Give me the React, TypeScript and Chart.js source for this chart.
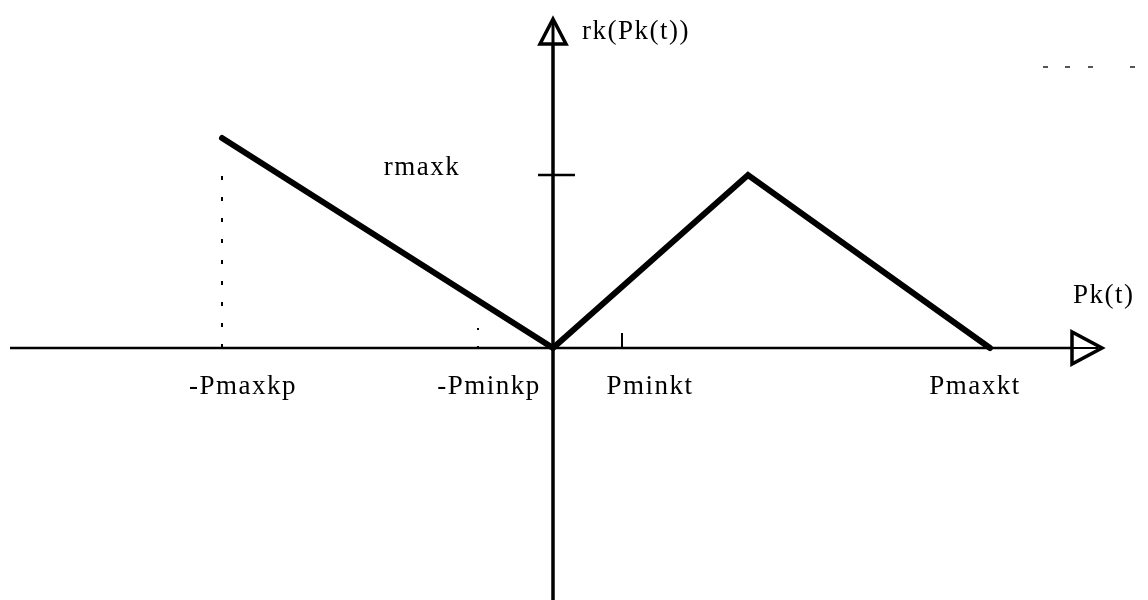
import React, { useEffect, useRef } from "react";
import { Chart, registerables } from "chart.js";

Chart.register(...registerables);

// Piecewise-linear reward curve rk(Pk(t)) in abstract units (origin at 0,0)
const curveX = [-6.62, 0, 3.9, 8.74];
const curveY = [4.2, 0, 3.46, 0];

// Characteristic points on the Pk(t) axis
const markNames = ["-Pmaxkp", "-Pminkp", "Pminkt", "Pmaxkt"];
const markValues = [-6.62, -1.5, 1.38, 8.74];
const labelAnchors = [-6.2, -1.28, 1.94, 8.44];

// Peak value rmaxk on the vertical axis
const rmaxValue = 3.46;

// Axis extents
const xAxisRange = [-10.86, 10.38];
const yAxisRange = [-5.04, 6.08];

const X_MIN = -11.06;
const X_MAX = 11.9;
const Y_MIN = -5.04;
const Y_MAX = 6.96;

const FONT = "27px 'Liberation Serif', 'DejaVu Serif', serif";

const seg = (x1: number, y1: number, x2: number, y2: number) => [
  { x: x1, y: y1 },
  { x: x2, y: y2 },
];

const diagramPlugin = {
  id: "diagramDecor",
  afterDatasetsDraw(chart: any) {
    const { ctx, scales } = chart;
    const px = (v: number) => scales.x.getPixelForValue(v);
    const py = (v: number) => scales.y.getPixelForValue(v);
    ctx.save();
    ctx.strokeStyle = "#000";
    ctx.fillStyle = "#fff";
    ctx.lineWidth = 3.5;
    ctx.lineJoin = "miter";

    // hollow arrow head on the vertical axis
    const ax = px(0);
    const ab = py(yAxisRange[1]);
    ctx.beginPath();
    ctx.moveTo(ax - 13, ab);
    ctx.lineTo(ax + 13, ab);
    ctx.lineTo(ax, ab - 25);
    ctx.closePath();
    ctx.fill();
    ctx.stroke();
    ctx.beginPath();
    ctx.moveTo(ax, ab);
    ctx.lineTo(ax, ab - 22);
    ctx.lineWidth = 3;
    ctx.stroke();

    // hollow arrow head on the horizontal axis
    const bx = px(xAxisRange[1]);
    const by = py(0);
    ctx.beginPath();
    ctx.moveTo(bx, by - 16);
    ctx.lineTo(bx, by + 16);
    ctx.lineTo(bx + 30, by);
    ctx.closePath();
    ctx.fill();
    ctx.lineWidth = 3.5;
    ctx.stroke();
    ctx.beginPath();
    ctx.moveTo(bx, by);
    ctx.lineTo(bx + 26, by);
    ctx.lineWidth = 2;
    ctx.stroke();

    // text
    ctx.fillStyle = "#000";
    ctx.font = FONT;
    (ctx as any).letterSpacing = "1.5px";
    ctx.textAlign = "center";
    ctx.textBaseline = "middle";
    markNames.forEach((name, i) => {
      ctx.fillText(name, px(labelAnchors[i]), py(-0.78));
    });
    ctx.fillText("rmaxk", px(-2.62), py(rmaxValue + 0.14));
    ctx.textAlign = "left";
    ctx.fillText("rk(Pk(t))", px(0.58), py(6.32));
    ctx.fillText("Pk(t)", px(10.4), py(1.04));
    (ctx as any).letterSpacing = "0px";

    // faint specks along the top edge
    ctx.fillStyle = "#555";
    [9.8, 10.24, 10.7, 11.54].forEach((v) => {
      ctx.fillRect(px(v), py(5.64), 5, 2);
    });
    ctx.restore();
  },
};

export default function App() {
  const canvasRef = useRef<HTMLCanvasElement | null>(null);

  useEffect(() => {
    const canvas = canvasRef.current;
    if (!canvas) return;
    const base = {
      borderColor: "#000",
      pointRadius: 0,
      showLine: true,
      fill: false,
      tension: 0,
    };
    const chart = new Chart(canvas, {
      type: "scatter",
      data: {
        datasets: [
          {
            ...base,
            label: "Pk(t) axis",
            data: seg(xAxisRange[0], 0, xAxisRange[1], 0),
            borderWidth: 2.5,
          },
          {
            ...base,
            label: "rk axis",
            data: seg(0, yAxisRange[0], 0, yAxisRange[1]),
            borderWidth: 3.5,
          },
          {
            ...base,
            label: "rmaxk tick",
            data: seg(-0.3, rmaxValue, 0.44, rmaxValue),
            borderWidth: 2.5,
          },
          {
            ...base,
            label: "Pminkt tick",
            data: seg(markValues[2], 0, markValues[2], 0.3),
            borderWidth: 2,
          },
          {
            ...base,
            label: "Pmaxkp guide",
            data: seg(markValues[0], 0, markValues[0], 3.72),
            borderWidth: 2,
            borderDash: [4, 17],
          },
          {
            ...base,
            label: "Pminkp guide",
            data: seg(markValues[1], 0, markValues[1], 0.5),
            borderWidth: 2,
            borderDash: [2, 16],
          },
          {
            ...base,
            label: "rk(Pk(t))",
            data: curveX.map((x, i) => ({ x, y: curveY[i] })),
            borderWidth: 6,
            borderCapStyle: "round",
            borderJoinStyle: "miter",
          },
        ],
      },
      options: {
        animation: false,
        responsive: false,
        layout: { padding: 0 },
        scales: {
          x: { type: "linear", min: X_MIN, max: X_MAX, display: false },
          y: { type: "linear", min: Y_MIN, max: Y_MAX, display: false },
        },
        plugins: {
          legend: { display: false },
          tooltip: { enabled: false },
        },
      },
      plugins: [diagramPlugin],
    } as any);
    return () => chart.destroy();
  }, []);

  return (
    <div style={{ position: "fixed", left: 0, top: 0, width: 1148, height: 600, background: "#fff" }}>
      <canvas ref={canvasRef} width={1148} height={600} />
    </div>
  );
}
